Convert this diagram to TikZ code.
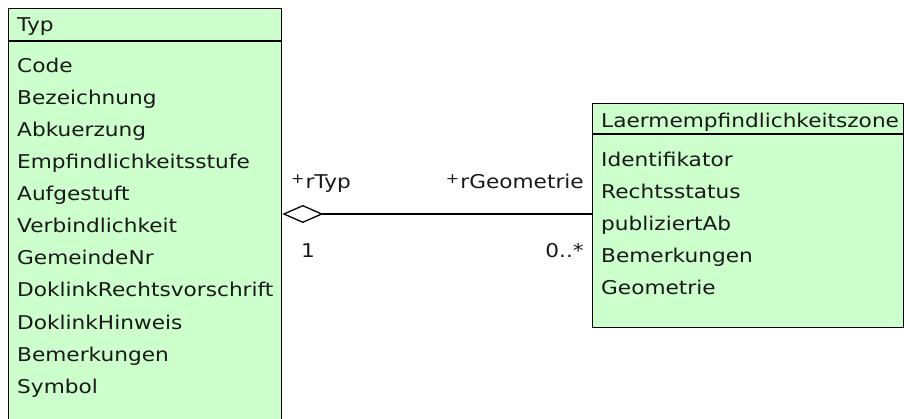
\documentclass[tikz,border=0pt]{standalone}
\usepackage{fontspec}
\setmainfont[FakeStretch=1.14]{DejaVu Sans}
\usetikzlibrary{arrows.meta}
\definecolor{boxfill}{RGB}{204,255,204}
\begin{document}
\begin{tikzpicture}[x=1pt,y=-1pt,
  font=\fontsize{19}{21}\selectfont,
  umlbox/.style={draw=black, fill=boxfill, line width=1.3pt, rectangle, inner sep=0pt, anchor=north west},
  attr/.style={anchor=base west, inner sep=0pt, text=black!90},
  rattr/.style={anchor=base east, inner sep=0pt, text=black!90},
  assoc/.style={line width=1.3pt, {Diamond[open,length=41pt,width=18pt,line width=1.3pt]}-},
  sepline/.style={line width=1.3pt}]
\useasboundingbox (0,0) rectangle (904,419);
\clip (0,0) rectangle (904,419);
% left class
\node[umlbox, minimum width=273pt, minimum height=440pt] (typ) at (8,8) {};
\draw[sepline] ([yshift=-33pt]typ.north west) -- ([yshift=-33pt]typ.north east);
\node[attr] (typname) at (17,32) {Typ};
\node[attr] (a1) at (17,73) {Code};
\node[attr] (a2) at (17,105) {Bezeichnung};
\node[attr] (a3) at (17,137) {Abkuerzung};
\node[attr] (a4) at (17,169) {Empfindlichkeitsstufe};
\node[attr] (a5) at (17,201) {Aufgestuft};
\node[attr] (a6) at (17,233) {Verbindlichkeit};
\node[attr] (a7) at (17,265) {GemeindeNr};
\node[attr] (a8) at (17,297) {DoklinkRechtsvorschrift};
\node[attr] (a9) at (17,329) {DoklinkHinweis};
\node[attr] (a10) at (17,361) {Bemerkungen};
\node[attr] (a11) at (17,393) {Symbol};
% right class
\node[umlbox, minimum width=311pt, minimum height=224pt] (zone) at (592,103) {};
\draw[sepline] ([yshift=-31pt]zone.north west) -- ([yshift=-31pt]zone.north east);
\node[attr] (zname) at (601,128) {Laermempfindlichkeitszone};
\node[attr] (b1) at (601,167) {Identifikator};
\node[attr] (b2) at (601,199) {Rechtsstatus};
\node[attr] (b3) at (601,231) {publiziertAb};
\node[attr] (b4) at (601,263) {Bemerkungen};
\node[attr] (b5) at (601,295) {Geometrie};
% association
\path (typ.north east) ++(0,206) coordinate (p1);
\draw[assoc] (p1) -- (p1 -| zone.west);
\node[attr] (r1) at (291,189) {\raisebox{5pt}{\fontsize{14}{14}\selectfont+}\kern1pt rTyp};
\node[rattr] (r2) at (584,189) {\raisebox{5pt}{\fontsize{14}{14}\selectfont+}\kern1pt rGeometrie};
\node[attr] (m1) at (301,258) {1};
\node[rattr] (m2) at (584,258) {0..*};
\end{tikzpicture}
\end{document}
